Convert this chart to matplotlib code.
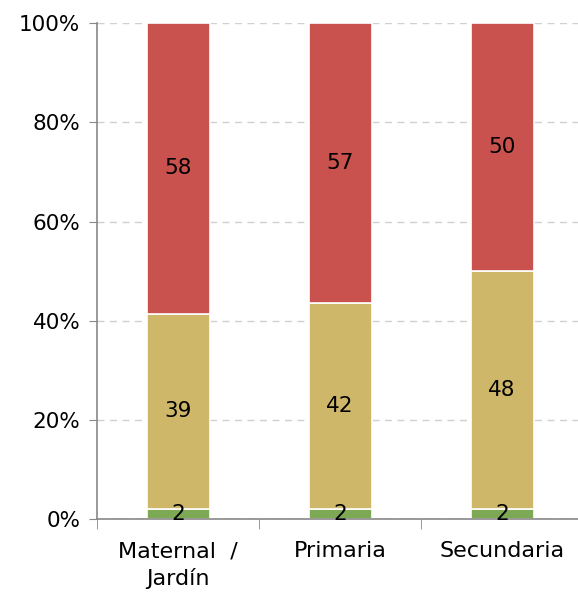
import matplotlib.pyplot as plt
import numpy as np

plt.rcParams['font.family'] = ['DejaVu Sans']

categories = ['Maternal  /\nJardín', 'Primaria', 'Secundaria']
verde = np.array([2, 2, 2])
amarillo = np.array([39, 42, 48])
rojo = np.array([58, 57, 50])

total = verde + amarillo + rojo
series = [verde, amarillo, rojo]
colors = ['#7EA954', '#CFB76A', '#C9524E']

fig = plt.figure(figsize=(5.78, 5.94), dpi=100)
ax = fig.add_axes([0.168, 0.126, 0.841, 0.835])

x = np.arange(len(categories))
bottom = np.zeros(len(categories))
for vals, c in zip(series, colors):
    h = vals / total * 100
    ax.bar(x, h, 0.39, bottom=bottom, color=c, edgecolor='white', linewidth=1.2, zorder=2)
    for xi, b, hi, v in zip(x, bottom, h, vals):
        ax.text(xi, b + hi / 2, str(v), ha='center', va='center', fontsize=15.5, zorder=3)
    bottom = bottom + h

ax.set_ylim(0, 100)
ax.set_xlim(-0.5, 2.5)
ax.set_yticks(np.arange(0, 101, 20))
ax.set_yticklabels([f'{v}%' for v in range(0, 101, 20)], fontsize=15.5)
ax.set_xticks(x)
ax.set_xticklabels(categories, fontsize=16, linespacing=1.4)
ax.tick_params(axis='x', length=0, pad=16)
ax.set_xticks([-0.5, 0.5, 1.5], minor=True)
ax.tick_params(axis='x', which='minor', length=7, color='#888888', direction='out')
ax.tick_params(axis='y', length=6, color='#888888', direction='out', pad=6)
ax.yaxis.grid(True, linestyle=(0, (5, 4)), color='#d0d0d0', linewidth=1, zorder=0)
ax.set_axisbelow(True)
for s in ['top', 'right']:
    ax.spines[s].set_visible(False)
for s in ['left', 'bottom']:
    ax.spines[s].set_color('#888888')
    ax.spines[s].set_linewidth(1.2)

plt.savefig('out.png', dpi=100)
